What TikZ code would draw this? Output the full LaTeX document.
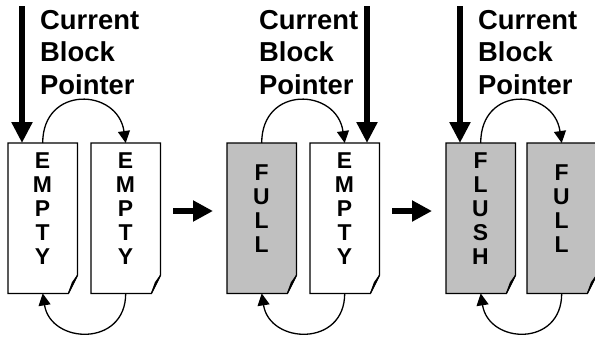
\documentclass[tikz,border=0pt]{standalone}
\usepackage{fontspec}
\setmainfont{Liberation Sans}
\usetikzlibrary{arrows.meta}
\definecolor{pagegray}{RGB}{192,192,192}
\newcommand\letterfont{\bfseries\fontsize{23}{24}\selectfont}
\newcommand\labelfont{\bfseries\fontsize{27.5}{33}\selectfont}
\tikzset{
  pageline/.style={draw=black, line width=1.3bp, line join=miter},
  loop arrow/.style={draw=black, line width=1.3bp, -{Triangle[length=12bp,width=12bp]}},
  pointer arrow/.style={draw=black, line width=6.5bp, -{Triangle[length=21bp,width=20bp]}},
  stage arrow/.style={draw=black, line width=6bp, -{Triangle[length=20bp,width=20bp]}},
  label text/.style={inner sep=0pt, anchor=base west},
  page letters/.style={inner sep=0pt},
  page frame/.style={minimum width=69bp, minimum height=150bp, inner sep=0pt, anchor=north west},
}
% #1 name, #2 left edge, #3 fill colour, #4 stacked letters
\newcommand\docpage[4]{%
  \node[page frame] (#1) at (#2,143) {};
  \path[pageline, fill=#3] (#1.north west) -- (#1.north east)
    -- ([yshift=18bp]#1.south east) -- ([xshift=-9bp]#1.south east)
    -- (#1.south west) -- cycle;
  \path[pageline, fill=pagegray, line width=1bp] ([yshift=18bp]#1.south east)
    -- ([xshift=-5bp,yshift=11bp]#1.south east) -- ([xshift=-9bp]#1.south east) -- cycle;
  \node[page letters] (#1txt) at (#2+34.5,212)
    {\letterfont\begin{tabular}{@{}c@{}}#4\end{tabular}};
}
\newcommand\blocklabel[2]{%
  \node[label text] (#1) at (#2,29)
    {\labelfont\begin{tabular}[t]{@{}l@{}}Current\\Block\\Pointer\end{tabular}};
}
\begin{document}
\begin{tikzpicture}[x=1bp, y=-1bp]
  \useasboundingbox (0,0) rectangle (595,341);

  % stage 1: both blocks empty, pointer on the first
  \docpage{a1}{8}{white}{E\\M\\P\\T\\Y}
  \docpage{a2}{91}{white}{E\\M\\P\\T\\Y}
  \blocklabel{lab1}{40}
  \coordinate (ptrA) at (22,6);
  \draw[pointer arrow] (ptrA) -- (ptrA |- a1.north);
  \draw[loop arrow] (a1.north) .. controls +(0,-58) and +(-8,-55) .. (a2.north);
  \draw[loop arrow] (a2.south) .. controls +(0,54) and +(8,51) .. (a1.south);

  % stage 2: first block full, pointer moved on
  \docpage{b1}{227}{pagegray}{F\\U\\L\\L}
  \docpage{b2}{310}{white}{E\\M\\P\\T\\Y}
  \blocklabel{lab2}{259}
  \coordinate (ptrB) at (367,6);
  \draw[pointer arrow] (ptrB) -- (ptrB |- b2.north);
  \draw[loop arrow] (b1.north) .. controls +(0,-58) and +(-8,-55) .. (b2.north);
  \draw[loop arrow] (b2.south) .. controls +(0,54) and +(8,51) .. (b1.south);

  % stage 3: second block full, first one being flushed
  \docpage{c1}{446}{pagegray}{F\\L\\U\\S\\H}
  \docpage{c2}{527}{pagegray}{F\\U\\L\\L}
  \blocklabel{lab3}{478}
  \coordinate (ptrC) at (460,6);
  \draw[pointer arrow] (ptrC) -- (ptrC |- c1.north);
  \draw[loop arrow] (c1.north) .. controls +(0,-58) and +(-8,-55) .. (c2.north);
  \draw[loop arrow] (c2.south) .. controls +(0,54) and +(8,51) .. (c1.south);

  % transitions between stages
  \coordinate (s1a) at (173,211);
  \coordinate (s1b) at (213,211);
  \coordinate (s2a) at (392,211);
  \coordinate (s2b) at (432,211);
  \draw[stage arrow] (s1a) -- (s1b);
  \draw[stage arrow] (s2a) -- (s2b);
\end{tikzpicture}
\end{document}
